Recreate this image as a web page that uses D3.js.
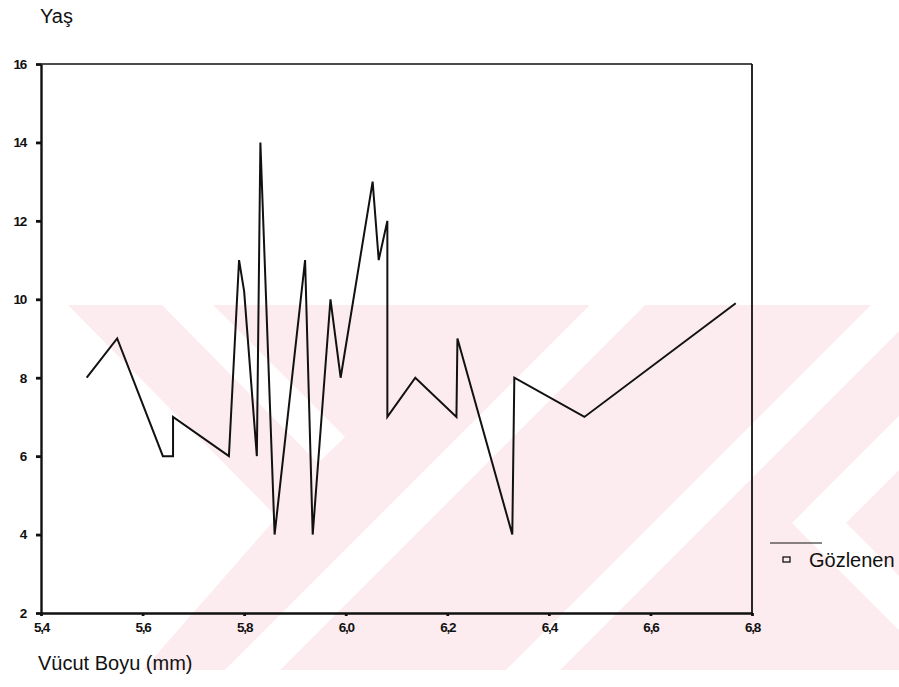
<!DOCTYPE html>
<html>
<head>
<meta charset="utf-8">
<script src="https://cdn.jsdelivr.net/npm/d3@7"></script>
<style>
  html, body { margin: 0; padding: 0; background: #fff; }
  svg { display: block; }
</style>
</head>
<body>
<svg id="chart" width="899" height="687"></svg>
<script>
// ---- data ----
const bodyLength = [5.49, 5.55, 5.64, 5.66, 5.66, 5.77, 5.79, 5.80, 5.825, 5.832, 5.86, 5.92, 5.935, 5.97, 5.99, 6.053, 6.065, 6.082, 6.082, 6.137, 6.218, 6.22, 6.328, 6.332, 6.47, 6.768];
const age        = [8,    9,    6,    6,    7,    6,    11,   10.2, 6,     14,    4,    11,   4,     10,   8,    13,    11,    12,    7,     8,     7,     9,    4,     8,     7,    9.9];
const xTicks = [5.4, 5.6, 5.8, 6.0, 6.2, 6.4, 6.6, 6.8];
const yTicks = [2, 4, 6, 8, 10, 12, 14, 16];
const xDomain = [5.4, 6.8];
const yDomain = [2, 16];
const yTitle = "Yaş";
const xTitle = "Vücut Boyu (mm)";
const legendLabel = "Gözlenen";

const svg = d3.select("#chart");
const mLeft = 41, mRight = 752, mTop = 64, mBottom = 613;

// ---- background watermark (decorative) ----
const wm = svg.append("g");
const pink = "#fcecef";
wm.append("polygon").attr("fill", pink)
  .attr("points", [[68,305],[899,305],[899,670],[143,670],[277,517]].map(p => p.join(",")).join(" "));
const whites = [
  [[162,305],[213,305],[345,437],[318,463]],
  [[590,305],[645,305],[280,670],[225,670]],
  [[871,305],[925,305],[560,670],[506,670]],
  [[792,523],[899,416],[899,470],[846,523],[899,576],[899,630]]
];
whites.forEach(w => wm.append("polygon").attr("fill", "#fff")
  .attr("points", w.map(p => p.join(",")).join(" ")));

// ---- scales ----
const x = d3.scaleLinear().domain(xDomain).range([mLeft, mRight]);
const y = d3.scaleLinear().domain(yDomain).range([mBottom, mTop]);
const fmt = d => d3.format(".1f")(d).replace(".", ",");

// ---- frame (top & right) ----
svg.append("line").attr("x1", mLeft).attr("x2", mRight).attr("y1", mTop).attr("y2", mTop)
  .attr("stroke", "#111").attr("stroke-width", 1.5);
svg.append("line").attr("x1", mRight).attr("x2", mRight).attr("y1", mTop).attr("y2", mBottom)
  .attr("stroke", "#111").attr("stroke-width", 1.8);

// ---- axes ----
const gx = svg.append("g").attr("transform", `translate(0,${mBottom})`)
  .call(d3.axisBottom(x).tickValues(xTicks).tickFormat(fmt).tickSize(3).tickSizeOuter(0).tickPadding(6));
const gy = svg.append("g").attr("transform", `translate(${mLeft},0)`)
  .call(d3.axisLeft(y).tickValues(yTicks).tickFormat(d3.format("d")).tickSize(5).tickSizeOuter(0).tickPadding(10));
[gx, gy].forEach(g => {
  g.select(".domain").attr("stroke", "#111").attr("stroke-width", 2.4);
  g.selectAll(".tick line").attr("stroke", "#111").attr("stroke-width", 2.8);
  g.selectAll(".tick text").attr("fill", "#111")
    .style("font-family", "'Liberation Sans', Arial, sans-serif")
    .style("font-weight", "bold").style("font-size", "13.5px").style("letter-spacing", "-1.2px");
});

// ---- data line ----
const pts = bodyLength.map((v, i) => [v, age[i]]);
svg.append("path").datum(pts)
  .attr("fill", "none").attr("stroke", "#111").attr("stroke-width", 2)
  .attr("stroke-linejoin", "miter")
  .attr("d", d3.line().x(d => x(d[0])).y(d => y(d[1])));

// ---- titles ----
const font = "'Liberation Sans', Arial, sans-serif";
svg.append("text").attr("x", 40).attr("y", 23).text(yTitle)
  .style("font-family", font).style("font-size", "20px").attr("fill", "#111");
svg.append("text").attr("x", 38).attr("y", 670).text(xTitle)
  .style("font-family", font).style("font-size", "20px").attr("fill", "#111");

// ---- legend ----
const lg = svg.append("g");
lg.append("line").attr("x1", 770).attr("x2", 822).attr("y1", 543).attr("y2", 543)
  .attr("stroke", "#111").attr("stroke-width", 1.2);
lg.append("rect").attr("x", 783).attr("y", 557).attr("width", 7).attr("height", 5)
  .attr("fill", "none").attr("stroke", "#111").attr("stroke-width", 1.3);
lg.append("text").attr("x", 809).attr("y", 567).text(legendLabel)
  .style("font-family", font).style("font-size", "20px").attr("fill", "#111");
</script>
</body>
</html>
